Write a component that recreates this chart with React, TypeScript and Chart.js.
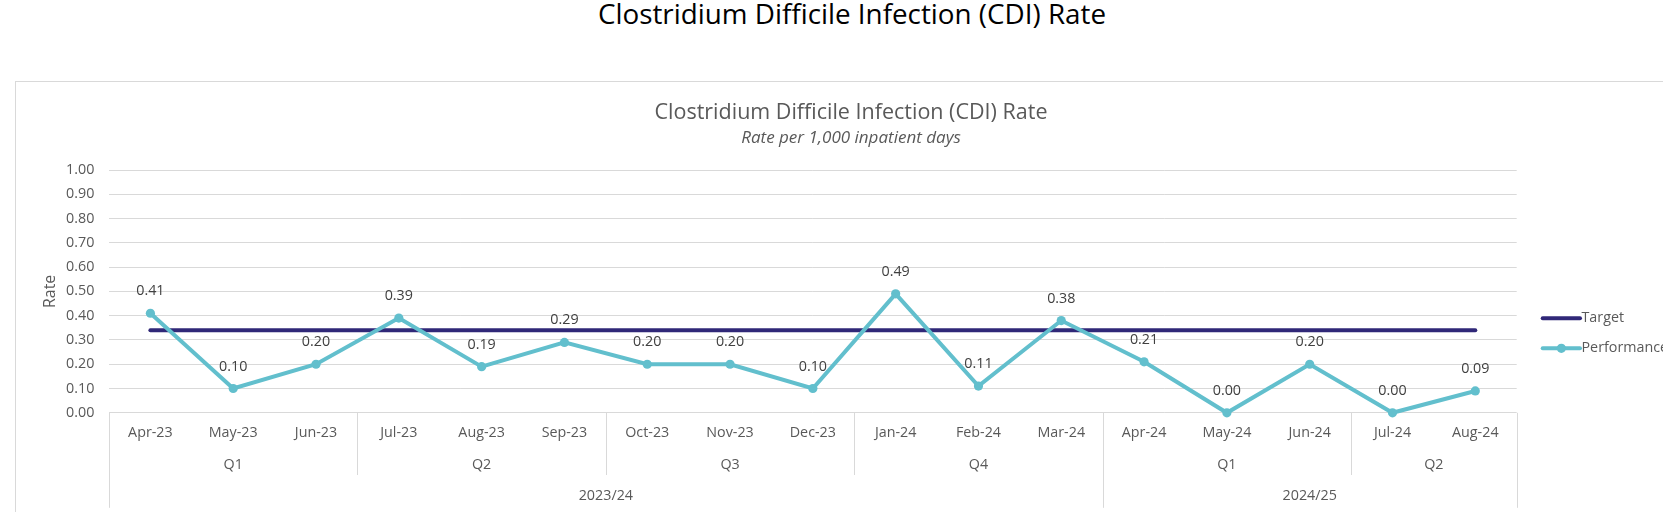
import React, { useEffect, useRef } from 'react';
import { Chart, registerables } from 'chart.js';

Chart.register(...registerables);

// ---- data ----
const pageTitle = 'Clostridium Difficile Infection (CDI) Rate';
const chartTitle = 'Clostridium Difficile Infection (CDI) Rate';
const chartSubtitle = 'Rate per 1,000 inpatient days';
const months = [
  'Apr-23', 'May-23', 'Jun-23', 'Jul-23', 'Aug-23', 'Sep-23', 'Oct-23', 'Nov-23', 'Dec-23',
  'Jan-24', 'Feb-24', 'Mar-24', 'Apr-24', 'May-24', 'Jun-24', 'Jul-24', 'Aug-24',
];
const performance = [0.41, 0.10, 0.20, 0.39, 0.19, 0.29, 0.20, 0.20, 0.10, 0.49, 0.11, 0.38, 0.21, 0.00, 0.20, 0.00, 0.09];
const target = [0.34, 0.34, 0.34, 0.34, 0.34, 0.34, 0.34, 0.34, 0.34, 0.34, 0.34, 0.34, 0.34, 0.34, 0.34, 0.34, 0.34];
const quarterLabels = ['Q1', 'Q2', 'Q3', 'Q4', 'Q1', 'Q2'];
const quarterSpans = [3, 3, 3, 3, 3, 2];
const yearLabels = ['2023/24', '2024/25'];
const yearSpans = [12, 5];
const yMin = 0;
const yMax = 1;
const yStep = 0.1;

const FONT = "'Open Sans', 'Noto Sans', sans-serif";
const TICK_SIZE = 14.3;
const AXIS_GREY = '#595959';
const LABEL_GREY = '#404040';
const GRID = '#d9d9d9';
const NAVY = '#302878';
const TEAL = '#62BFCD';
const BOX_LEFT = 15;
const BOX_TOP = 81;
const BOX_RIGHT = 1687;

const titles = {
  id: 'titles',
  afterDraw(chart: any) {
    const { ctx } = chart;
    const cx = (BOX_LEFT + BOX_RIGHT) / 2;
    ctx.save();
    ctx.fillStyle = AXIS_GREY;
    ctx.textAlign = 'center';
    ctx.textBaseline = 'middle';
    ctx.font = `21.5px ${FONT}`;
    ctx.fillText(chartTitle, cx, 112.5);
    ctx.font = `italic 17px ${FONT}`;
    ctx.fillText(chartSubtitle, cx, 138.2);
    ctx.restore();
  },
};

const multiLevelAxis = {
  id: 'multiLevelAxis',
  afterDraw(chart: any) {
    const { ctx, chartArea } = chart;
    const n = months.length;
    const w = chartArea.width / n;
    const bottom = chartArea.bottom;
    const bx = (i: number) => Math.round(chartArea.left + i * w) + 0.5;
    ctx.save();
    ctx.strokeStyle = GRID;
    ctx.lineWidth = 1;
    const yearB: number[] = [0];
    let acc = 0;
    yearSpans.forEach((s) => { acc += s; yearB.push(acc); });
    const quarterB: number[] = [];
    acc = 0;
    quarterSpans.forEach((s) => { acc += s; quarterB.push(acc); });
    quarterB.forEach((b) => {
      if (yearB.indexOf(b) >= 0) return;
      ctx.beginPath();
      ctx.moveTo(bx(b), bottom);
      ctx.lineTo(bx(b), bottom + 62.2);
      ctx.stroke();
    });
    yearB.forEach((b) => {
      ctx.beginPath();
      ctx.moveTo(bx(b), bottom);
      ctx.lineTo(bx(b), bottom + 95);
      ctx.stroke();
    });
    ctx.fillStyle = AXIS_GREY;
    ctx.font = `${TICK_SIZE}px ${FONT}`;
    ctx.textAlign = 'center';
    ctx.textBaseline = 'middle';
    let start = 0;
    quarterLabels.forEach((q, i) => {
      const s = quarterSpans[i];
      ctx.fillText(q, chartArea.left + (start + s / 2) * w, bottom + 52.2);
      start += s;
    });
    start = 0;
    yearLabels.forEach((y, i) => {
      const s = yearSpans[i];
      ctx.fillText(y, chartArea.left + (start + s / 2) * w, bottom + 83.2);
      start += s;
    });
    ctx.restore();
  },
};

const dataLabels = {
  id: 'dataLabels',
  afterDatasetsDraw(chart: any) {
    const { ctx } = chart;
    const meta = chart.getDatasetMeta(0);
    const ds = chart.data.datasets[0];
    ctx.save();
    ctx.fillStyle = LABEL_GREY;
    ctx.font = `${TICK_SIZE}px ${FONT}`;
    ctx.textAlign = 'center';
    ctx.textBaseline = 'middle';
    meta.data.forEach((pt: any, i: number) => {
      ctx.fillText(Number(ds.data[i]).toFixed(2), pt.x, pt.y - 22);
    });
    ctx.restore();
  },
};

const customLegend = {
  id: 'customLegend',
  afterDraw(chart: any) {
    const { ctx, chartArea } = chart;
    const x0 = chartArea.right + 26;
    const x1 = x0 + 37.3;
    const items = [
      { label: chart.data.datasets[1].label, color: NAVY, dot: false, y: chartArea.top + 148.3 },
      { label: chart.data.datasets[0].label, color: TEAL, dot: true, y: chartArea.top + 178.3 },
    ];
    ctx.save();
    items.forEach((it) => {
      ctx.strokeStyle = it.color;
      ctx.lineWidth = 4;
      ctx.lineCap = 'round';
      ctx.beginPath();
      ctx.moveTo(x0, it.y);
      ctx.lineTo(x1, it.y);
      ctx.stroke();
      if (it.dot) {
        ctx.fillStyle = it.color;
        ctx.beginPath();
        ctx.arc((x0 + x1) / 2, it.y, 4.6, 0, Math.PI * 2);
        ctx.fill();
      }
      ctx.fillStyle = AXIS_GREY;
      ctx.font = `${TICK_SIZE}px ${FONT}`;
      ctx.textAlign = 'left';
      ctx.textBaseline = 'middle';
      ctx.fillText(it.label, x1 + 1.5, it.y);
    });
    ctx.restore();
  },
};

export default function App() {
  const ref = useRef<HTMLCanvasElement | null>(null);

  useEffect(() => {
    if (!ref.current) return;
    const chart = new Chart(ref.current, {
      type: 'line',
      data: {
        labels: months,
        datasets: [
          {
            label: 'Performance',
            data: performance,
            borderColor: TEAL,
            backgroundColor: TEAL,
            borderWidth: 4,
            pointRadius: 4.6,
            pointBorderWidth: 0,
            pointBackgroundColor: TEAL,
            tension: 0,
            order: 1,
            clip: false as any,
          },
          {
            label: 'Target',
            data: target,
            borderColor: NAVY,
            backgroundColor: NAVY,
            borderWidth: 4,
            borderCapStyle: 'round',
            pointRadius: 0,
            tension: 0,
            order: 2,
            clip: false as any,
          },
        ],
      },
      options: {
        responsive: false,
        animation: false,
        events: [],
        layout: { padding: { left: 40.7, right: 146.3, top: 170, bottom: 0 } },
        plugins: {
          legend: { display: false },
          tooltip: { enabled: false },
          title: { display: false },
          subtitle: { display: false },
        },
        scales: {
          x: {
            type: 'category',
            offset: true,
            grid: { display: false, drawTicks: false },
            border: { display: false },
            ticks: {
              color: AXIS_GREY,
              font: { family: FONT, size: TICK_SIZE },
              padding: 11.9,
              maxRotation: 0,
              minRotation: 0,
              autoSkip: false,
            },
            afterFit: (s: any) => { s.height = 99.2; },
          },
          y: {
            min: yMin,
            max: yMax,
            ticks: {
              stepSize: yStep,
              callback: (v: any) => Number(v).toFixed(2),
              color: AXIS_GREY,
              font: { family: FONT, size: TICK_SIZE },
              padding: 14.7,
            },
            grid: { color: GRID, lineWidth: 1, drawTicks: false },
            border: { display: false },
            title: {
              display: true,
              text: 'Rate',
              color: AXIS_GREY,
              font: { family: FONT, size: 15.9 },
              padding: { top: 0, bottom: 0 },
            },
            afterFit: (s: any) => { s.width = 68.3; },
          },
        },
      },
      plugins: [titles, multiLevelAxis, dataLabels, customLegend],
    } as any);
    return () => chart.destroy();
  }, []);

  return (
    <div style={{ position: 'absolute', left: 0, top: 0, width: 1663, height: 512, overflow: 'hidden', background: '#fff' }}>
      <div
        style={{
          position: 'absolute', left: 0, top: -1, width: 1704, textAlign: 'center',
          fontFamily: FONT, fontSize: 27.8, lineHeight: '28px', color: '#000', whiteSpace: 'nowrap',
        }}
      >
        {pageTitle}
      </div>
      <div
        style={{
          position: 'absolute', left: BOX_LEFT, top: BOX_TOP, width: BOX_RIGHT - BOX_LEFT, height: 600,
          border: '1px solid #d9d9d9', boxSizing: 'border-box',
        }}
      />
      <canvas ref={ref} width={1663} height={512} style={{ position: 'absolute', left: 0, top: 0, width: 1663, height: 512 }} />
    </div>
  );
}
